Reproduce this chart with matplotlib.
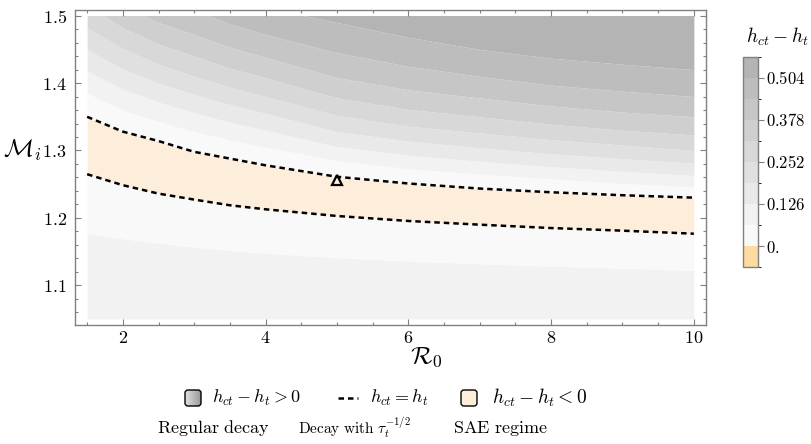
import numpy as np
import matplotlib
matplotlib.use('Agg')
import matplotlib.pyplot as plt
from matplotlib.patches import Rectangle, FancyBboxPatch
from matplotlib.colors import ListedColormap, BoundaryNorm
from matplotlib.cm import ScalarMappable
import matplotlib.ticker as mticker

plt.rcParams['mathtext.fontset'] = 'cm'
plt.rcParams['font.family'] = ['DejaVu Serif']

# ---------------- data ----------------
r0 = [1.5, 2.0, 2.5, 3.0, 3.5, 4.0, 5.0, 6.0, 7.0, 8.0, 9.0, 10.0]

# contour levels of h_ct - h_t
levels = [-0.063, 0.0, 0.063, 0.126, 0.189, 0.252, 0.315, 0.378, 0.441, 0.504, 0.567]

# M_i of the level curves above the SAE band (level 0 is the upper h_ct = h_t curve)
m_upper_000 = [1.350, 1.328, 1.314, 1.298, 1.288, 1.278, 1.261, 1.251, 1.2435, 1.238, 1.2336, 1.230]
m_upper_063 = [1.385, 1.360, 1.343, 1.328, 1.316, 1.305, 1.285, 1.273, 1.265, 1.258, 1.251, 1.246]
m_upper_126 = [1.418, 1.391, 1.372, 1.356, 1.342, 1.330, 1.306, 1.293, 1.284, 1.276, 1.269, 1.263]
m_upper_189 = [1.450, 1.421, 1.400, 1.383, 1.368, 1.355, 1.328, 1.314, 1.304, 1.295, 1.288, 1.281]
m_upper_252 = [1.482, 1.451, 1.428, 1.410, 1.394, 1.380, 1.352, 1.336, 1.326, 1.316, 1.308, 1.300]
m_upper_315 = [1.515, 1.482, 1.458, 1.440, 1.422, 1.408, 1.378, 1.361, 1.350, 1.339, 1.330, 1.323]
m_upper_378 = [1.550, 1.515, 1.490, 1.472, 1.453, 1.438, 1.408, 1.390, 1.378, 1.366, 1.357, 1.350]
m_upper_441 = [1.590, 1.550, 1.525, 1.508, 1.488, 1.472, 1.445, 1.425, 1.410, 1.397, 1.388, 1.380]
m_upper_504 = [1.630, 1.590, 1.565, 1.550, 1.530, 1.512, 1.490, 1.468, 1.450, 1.437, 1.428, 1.420]

# level curves below the SAE band (level 0 is the lower h_ct = h_t curve)
m_lower_000 = [1.2648, 1.2485, 1.236, 1.2271, 1.2187, 1.2127, 1.2028, 1.1954, 1.1899, 1.1849, 1.181, 1.1765]
m_lower_063 = [1.1775, 1.1691, 1.1626, 1.1567, 1.1517, 1.1477, 1.1408, 1.1358, 1.1319, 1.1284, 1.1254, 1.1219]

# marked point
marker_r0 = [5.0]
marker_m = [1.256]

# domain of the computed region
r0_range = [1.5, 10.0]
m_range = [1.05, 1.5]

x_ticks = [2, 4, 6, 8, 10]
x_ticklabels = ['2', '4', '6', '8', '10']
y_ticks = [1.1, 1.2, 1.3, 1.4, 1.5]
y_ticklabels = ['1.1', '1.2', '1.3', '1.4', '1.5']
cbar_ticks = [0.0, 0.126, 0.252, 0.378, 0.504]
cbar_ticklabels = ['0.', '0.126', '0.252', '0.378', '0.504']

# ---------------- styling ----------------
gray_colors = ['#f9f9f9', '#f2f2f2', '#e9e9e9', '#e0e0e0', '#d8d8d8',
               '#cfcfcf', '#c6c6c6', '#bdbdbd', '#b4b4b4']
orange_plot = '#fdeedb'
orange_cbar = '#fedca0'
frame_col = '#808080'

W, H = 812, 444
fig = plt.figure(figsize=(W / 100, H / 100), dpi=100)

axl, axr, axt, axb = 75, 706, 10, 325
ax = fig.add_axes([axl / W, 1 - axb / H, (axr - axl) / W, (axb - axt) / H])
ax.set_xlim(1.33, 10.17)
ax.set_ylim(1.041, 1.5085)

r = np.array(r0)
clip = Rectangle((r0_range[0], m_range[0]), r0_range[1] - r0_range[0],
                 m_range[1] - m_range[0], transform=ax.transData)

upper_curves = [m_upper_000, m_upper_063, m_upper_126, m_upper_189, m_upper_252,
                m_upper_315, m_upper_378, m_upper_441, m_upper_504]

fills = []
fills.append(ax.fill_between(r, m_range[0], m_lower_063, color=gray_colors[1], lw=0))
fills.append(ax.fill_between(r, m_lower_063, m_lower_000, color=gray_colors[0], lw=0))
fills.append(ax.fill_between(r, m_lower_000, m_upper_000, color=orange_plot, lw=0))
for i in range(len(upper_curves) - 1):
    fills.append(ax.fill_between(r, upper_curves[i], upper_curves[i + 1],
                                 color=gray_colors[i], lw=0))
fills.append(ax.fill_between(r, upper_curves[-1], 1.7, color=gray_colors[-1], lw=0))
for f in fills:
    f.set_clip_path(clip)

dash = (0, (2.2, 1.6))
ax.plot(r, m_upper_000, color='black', lw=1.8, linestyle=dash)
ax.plot(r, m_lower_000, color='black', lw=1.8, linestyle=dash)
ax.plot(marker_r0, marker_m, marker='^', ms=6.5, mfc='none', mec='black', mew=1.6,
        linestyle='none')

for s in ax.spines.values():
    s.set_color(frame_col)
    s.set_linewidth(1.0)
ax.set_xticks(x_ticks)
ax.set_xticklabels(['$' + t + '$' for t in x_ticklabels])
ax.set_yticks(y_ticks)
ax.set_yticklabels(['$' + t + '$' for t in y_ticklabels])
ax.xaxis.set_minor_locator(mticker.MultipleLocator(0.5))
ax.yaxis.set_minor_locator(mticker.MultipleLocator(0.02))
ax.tick_params(which='both', direction='in', top=True, right=True, color=frame_col,
               labelsize=13, width=0.8)
ax.tick_params(which='major', length=4.5)
ax.tick_params(which='minor', length=2.5)
ax.tick_params(axis='x', which='major', pad=3)
ax.tick_params(axis='y', which='major', pad=6)

fig.text(426 / W, 1 - 357 / H, r'$\mathcal{R}_0$', fontsize=18, ha='center', va='center')
fig.text(22 / W, 1 - 150 / H, r'$\mathcal{M}_i$', fontsize=18, ha='center', va='center')

# ---------------- colorbar ----------------
cax = fig.add_axes([743 / W, 1 - 267 / H, 15 / W, 210 / H])
cmap = ListedColormap([orange_cbar] + gray_colors)
norm = BoundaryNorm(levels, cmap.N)
cb = fig.colorbar(ScalarMappable(norm=norm, cmap=cmap), cax=cax, ticks=cbar_ticks,
                  drawedges=False)
cb.ax.set_yticklabels(['$' + t + '$' for t in cbar_ticklabels])
cb.outline.set_edgecolor(frame_col)
cb.outline.set_linewidth(1.0)
cb.ax.tick_params(labelsize=12, color=frame_col, length=4, width=0.8, pad=2)
fig.text(777 / W, 1 - 37 / H, r'$h_{ct}-h_t$', fontsize=14, ha='center', va='center')

# ---------------- legend ----------------
lax = fig.add_axes([0, 0, 1, 1])
lax.set_xlim(0, W)
lax.set_ylim(H, 0)
lax.axis('off')

grad = np.linspace(0.88, 0.6, 50).reshape(1, -1)
im = lax.imshow(np.repeat(grad, 2, axis=0), cmap='gray', vmin=0, vmax=1,
                extent=(185, 201, 406, 390), aspect='auto')
box1 = FancyBboxPatch((185, 390), 16, 16, boxstyle='round,pad=0,rounding_size=3',
                      fc='none', ec='black', lw=1.0)
lax.add_patch(box1)
im.set_clip_path(box1)
fig.text(212 / W, 1 - 398 / H, r'$h_{ct}-h_t>0$', fontsize=13, ha='left', va='center')

lax.plot([338, 358], [398, 398], color='black', lw=1.8, linestyle=dash)
fig.text(370 / W, 1 - 398 / H, r'$h_{ct}=h_t$', fontsize=13, ha='left', va='center')

box2 = FancyBboxPatch((461, 390), 16, 16, boxstyle='round,pad=0,rounding_size=3',
                      fc=orange_plot, ec='black', lw=1.0)
lax.add_patch(box2)
fig.text(492 / W, 1 - 398 / H, r'$h_{ct}-h_t<0$', fontsize=14, ha='left', va='center')

fig.text(157 / W, 1 - 428 / H, r'$\mathrm{Regular\ decay}$', fontsize=13, ha='left', va='center')
fig.text(298 / W, 1 - 428 / H, r'$\mathrm{Decay\ with\ }\tau_t^{-1/2}$', fontsize=11,
         ha='left', va='center')
fig.text(453 / W, 1 - 428 / H, r'$\mathrm{SAE\ regime}$', fontsize=13, ha='left', va='center')

fig.savefig('out.png', dpi=100)
